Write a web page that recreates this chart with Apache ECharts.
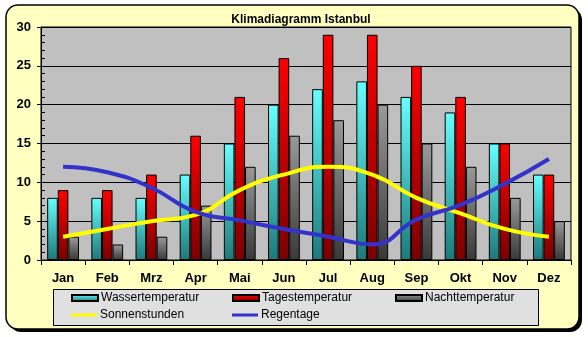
<!DOCTYPE html>
<html><head><meta charset="utf-8">
<script src="https://cdn.jsdelivr.net/npm/echarts@6/dist/echarts.min.js"></script>
<style>html,body{margin:0;padding:0;background:#fff;}#c{width:588px;height:337px;}</style>
</head><body><div id="c"></div>
<script>
var months = ['Jan','Feb','Mrz','Apr','Mai','Jun','Jul','Aug','Sep','Okt','Nov','Dez'];
var wasser = [8,8,8,11,15,20,22,23,21,19,15,11];
var tages = [9,9,11,16,21,26,29,29,25,21,15,11];
var nacht = [3,2,3,7,12,16,18,20,15,12,8,5];
var sonne = [3,4,5,5.8,9,11,12,11,8,6,4,3];
var regen = [12,11.3,9.3,6.2,5.1,4,3,2,5.2,7.1,9.8,13];
var yTicks = [0,5,10,15,20,25,30];
var seriesNames = ['Wassertemperatur','Tagestemperatur','Nachttemperatur','Sonnenstunden','Regentage'];

var FONT = '"Liberation Sans", Arial, sans-serif';
function grad(top, bottom){
  return new echarts.graphic.LinearGradient(0,0,0,1,[{offset:0,color:top},{offset:1,color:bottom}]);
}
var chart = echarts.init(document.getElementById('c'), null, {renderer:'canvas'});
var barItem = function(top,bottom){ return {color:grad(top,bottom), borderColor:'#000', borderWidth:1}; };
var legPos = [[71,292,6],[232,292,6],[395,292,6],[71,309,3],[232,309,3]];
var legends = seriesNames.map(function(n,i){
  return {left:legPos[i][0], top:legPos[i][1], padding:0, itemWidth:26, itemHeight:legPos[i][2],
    icon:'rect', selectedMode:false,
    textStyle:{fontFamily:FONT,fontSize:12,color:'#000',padding:[0,0,0,-2]},
    data:[n]};
});
chart.setOption({
  animation:false,
  backgroundColor:'#ffffff',
  textStyle:{fontFamily:FONT},
  graphic:[
    {type:'rect', z:-10, shape:{x:9,y:8,width:573,height:324,r:12}, style:{fill:'#000'}},
    {type:'rect', z:-9, shape:{x:6,y:5,width:573,height:324,r:12}, style:{fill:'#FFFFC0',stroke:'#000',lineWidth:1.5}},
    {type:'rect', z:-8, shape:{x:53.5,y:289.5,width:485,height:36}, style:{fill:'#E0E0E0',stroke:'#000',lineWidth:1}}
  ],
  title:{text:'Klimadiagramm Istanbul', left:296, textAlign:'center', top:9,
    textStyle:{fontFamily:FONT,fontSize:12,fontWeight:'bold',color:'#000'}},
  legend:legends,
  grid:{left:41, top:27, right:17, bottom:77, show:true, backgroundColor:'#C0C0C0', borderColor:'#000', borderWidth:1},
  xAxis:{type:'category', data:months, boundaryGap:true,
    axisLine:{lineStyle:{color:'#000',width:1}},
    axisTick:{show:true, length:5, lineStyle:{color:'#000'}},
    axisLabel:{margin:12, fontFamily:FONT, fontSize:13, fontWeight:'bold', color:'#000'}},
  yAxis:[{type:'value', min:0, max:30, interval:5,
    axisLine:{show:true,lineStyle:{color:'#000'}},
    axisTick:{show:true, inside:true, length:4, lineStyle:{color:'#000'}},
    minorTick:{show:true, splitNumber:5, length:4, lineStyle:{color:'#000'}},
    splitLine:{show:true, lineStyle:{color:'#000',width:1}},
    axisLabel:{margin:10, fontFamily:FONT, fontSize:13, fontWeight:'bold', color:'#000',
      formatter:function(v){return yTicks.indexOf(v)>=0?String(v):'';}}},
   {type:'value', min:0, max:30, interval:5, position:'left',
    axisLine:{show:false}, splitLine:{show:false}, axisLabel:{show:false},
    axisTick:{show:true, inside:false, length:4, lineStyle:{color:'#000'}}}],
  series:[
    {name:seriesNames[0], type:'bar', data:wasser, barGap:'0%', barCategoryGap:'28%',
      itemStyle:barItem('#66FFFF','#1E7878')},
    {name:seriesNames[1], type:'bar', data:tages, barGap:'0%', barCategoryGap:'28%',
      itemStyle:barItem('#FF0000','#7A0000')},
    {name:seriesNames[2], type:'bar', data:nacht, barGap:'0%', barCategoryGap:'28%',
      itemStyle:barItem('#9A9A9A','#383838')},
    {name:seriesNames[3], type:'line', data:sonne, smooth:0.5, symbol:'none', z:5,
      lineStyle:{color:'#FFFF00',width:4}, itemStyle:{color:'#FFFF00'}},
    {name:seriesNames[4], type:'line', data:regen, smooth:0.5, symbol:'none', z:6,
      lineStyle:{color:'#3333CC',width:4}, itemStyle:{color:'#3333CC'}}
  ]
});
</script></body></html>
